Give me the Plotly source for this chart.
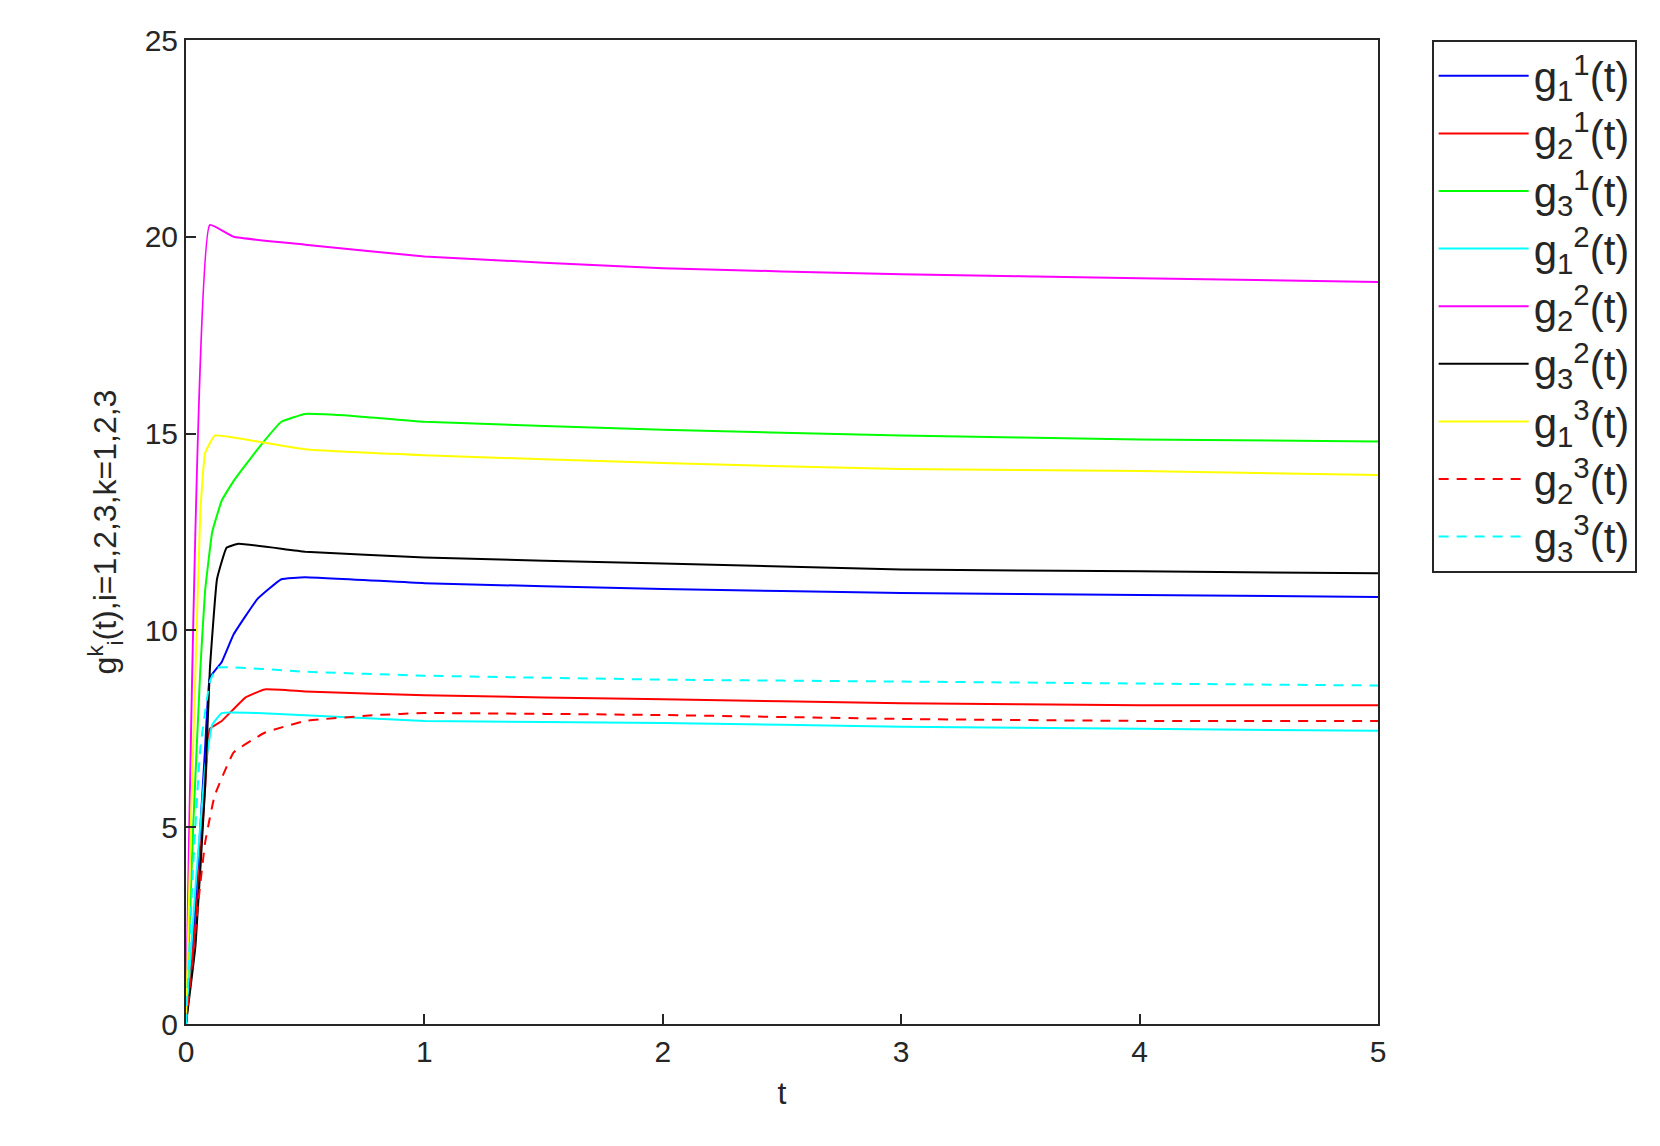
import plotly.graph_objects as go

t_g11 = [0, 0.04, 0.08, 0.1, 0.15, 0.2, 0.3, 0.4, 0.5, 1, 2, 3, 4, 5]
g11 = [0, 3, 7, 8.8, 9.2, 9.9, 10.8, 11.3, 11.35, 11.2, 11.05, 10.95, 10.9, 10.85]
t_g21 = [0, 0.04, 0.08, 0.1, 0.15, 0.25, 0.33, 0.5, 1, 2, 3, 4, 5]
g21 = [0, 2.5, 6, 7.5, 7.7, 8.3, 8.5, 8.45, 8.35, 8.25, 8.15, 8.1, 8.1]
t_g31 = [0, 0.03, 0.06, 0.08, 0.11, 0.15, 0.2, 0.3, 0.4, 0.5, 0.7, 1, 2, 3, 4, 5]
g31 = [0, 5, 9, 11, 12.5, 13.3, 13.8, 14.6, 15.3, 15.5, 15.45, 15.3, 15.1, 14.95, 14.85, 14.8]
t_g12 = [0, 0.04, 0.08, 0.11, 0.15, 0.3, 1, 2, 3, 4, 5]
g12 = [0, 3.5, 6.5, 7.6, 7.9, 7.9, 7.7, 7.65, 7.55, 7.5, 7.45]
t_g22 = [0, 0.1, 0.2, 0.5, 1, 2, 3, 4, 5]
g22 = [0, 20.3, 20.0, 19.8, 19.5, 19.2, 19.05, 18.95, 18.85]
t_g32 = [0, 0.04, 0.08, 0.1, 0.13, 0.17, 0.22, 0.5, 1, 2, 3, 4, 5]
g32 = [0, 2, 6, 9, 11.3, 12.1, 12.2, 12.0, 11.85, 11.7, 11.55, 11.5, 11.45]
t_g13 = [0, 0.02, 0.04, 0.06, 0.08, 0.12, 0.2, 0.5, 1, 2, 3, 4, 5]
g13 = [0, 5, 9, 13, 14.5, 14.95, 14.9, 14.6, 14.45, 14.25, 14.1, 14.05, 13.95]
t_g23 = [0, 0.05, 0.08, 0.12, 0.2, 0.33, 0.5, 0.8, 1, 2, 3, 4, 5]
g23 = [0, 3, 4.6, 5.8, 6.9, 7.4, 7.7, 7.85, 7.9, 7.85, 7.75, 7.7, 7.7]
t_g33 = [0, 0.03, 0.06, 0.1, 0.13, 0.5, 1, 2, 3, 4, 5]
g33 = [0, 4, 7, 8.7, 9.05, 8.95, 8.85, 8.75, 8.7, 8.65, 8.6]

series = [
    (t_g11, g11, "g<sub>1</sub><sup>1</sup>(t)", "#0000ff", "solid"),
    (t_g21, g21, "g<sub>2</sub><sup>1</sup>(t)", "#ff0000", "solid"),
    (t_g31, g31, "g<sub>3</sub><sup>1</sup>(t)", "#00ff00", "solid"),
    (t_g12, g12, "g<sub>1</sub><sup>2</sup>(t)", "#00ffff", "solid"),
    (t_g22, g22, "g<sub>2</sub><sup>2</sup>(t)", "#ff00ff", "solid"),
    (t_g32, g32, "g<sub>3</sub><sup>2</sup>(t)", "#000000", "solid"),
    (t_g13, g13, "g<sub>1</sub><sup>3</sup>(t)", "#ffff00", "solid"),
    (t_g23, g23, "g<sub>2</sub><sup>3</sup>(t)", "#ff0000", "dash"),
    (t_g33, g33, "g<sub>3</sub><sup>3</sup>(t)", "#00ffff", "dash"),
]

font = "Liberation Sans"
fig = go.Figure()
for tx, ty, name, col, dash in series:
    fig.add_trace(go.Scatter(x=tx, y=ty, name=name, mode="lines",
                             line=dict(color=col, width=2, dash="10px,8px" if dash == "dash" else "solid",
                                       shape="spline", smoothing=0.3)))

axis = dict(showgrid=False, zeroline=False, showline=True, linecolor="#262626", linewidth=2,
            mirror=True, ticks="inside", ticklen=10, tickwidth=2, tickcolor="#262626",
            tickfont=dict(size=30, family=font, color="#262626"))
fig.update_xaxes(range=[0, 5], dtick=1, title=dict(text="t", font=dict(size=32, family=font, color="#262626")), **axis)
fig.update_yaxes(range=[0, 25], dtick=5,
                 title=dict(text="g<sup>k</sup><sub>i</sub>(t),i=1,2,3,k=1,2,3",
                            font=dict(size=32, family=font, color="#262626"), standoff=18),
                 **axis)
fig.update_layout(
    width=1660, height=1146, plot_bgcolor="white", paper_bgcolor="white",
    margin=dict(l=178, r=290, t=32, b=130),
    legend=dict(x=1.045, y=1.0, xanchor="left", yanchor="top", bordercolor="#262626", borderwidth=2,
                font=dict(size=42, family=font, color="#262626"), tracegroupgap=0, itemwidth=90),
)
fig.write_html("out.html")
